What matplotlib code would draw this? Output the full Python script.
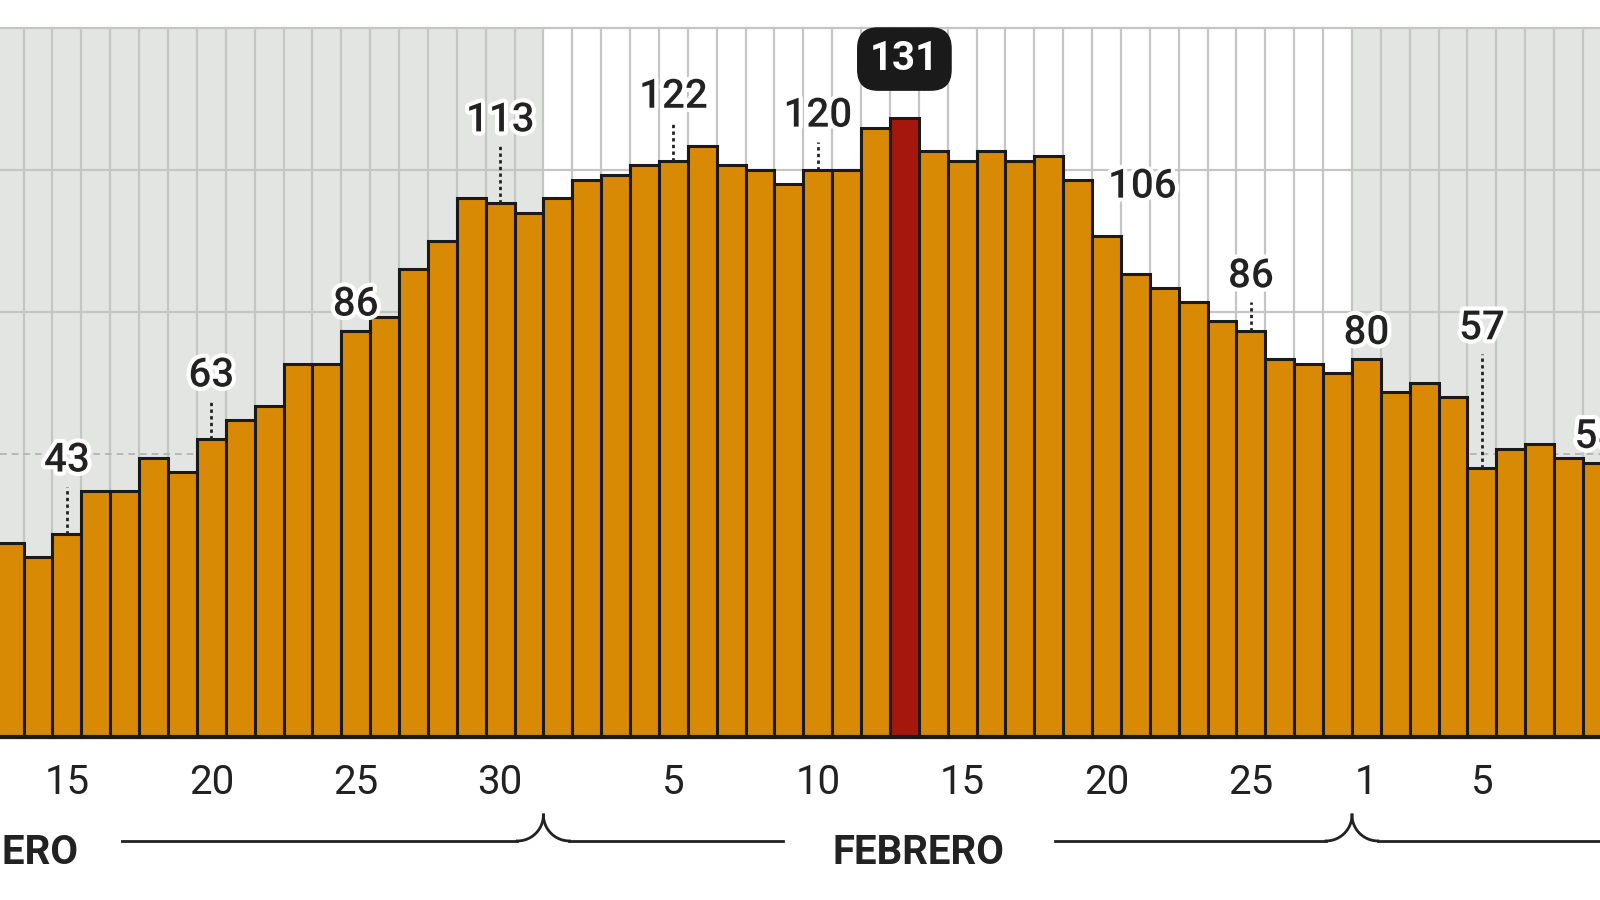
import matplotlib
matplotlib.use("Agg")
import matplotlib.pyplot as plt
import matplotlib.patheffects as pe
import numpy as np

# Days from Jan 13 to Mar 9
values = [41, 38, 43, 52, 52, 59, 56, 63, 67, 70, 79, 79, 86, 89, 99, 105, 114, 113, 111,
          114, 118, 119, 121, 122, 125, 121, 120, 117, 120, 120, 129, 131, 124, 122, 124, 122, 123,
          118, 106, 98, 95, 92, 88, 86, 80, 79, 77,
          80, 73, 75, 72, 57, 61, 62, 59, 58]
tick_show = ["15", "20", "25", "30", "5", "10", "15", "20", "25", "1", "5"]
tick_idx = [2, 7, 12, 17, 23, 28, 33, 38, 43, 47, 51]
annot_idx = [2, 7, 12, 17, 23, 28, 38, 43, 47, 51, 55]
peak_idx = 31
months = ["ENERO", "FEBRERO", "MARZO"]

ORANGE = "#d98a05"
RED = "#a5170d"
GRAY = "#e3e5e2"
FONT = ["Roboto", "DejaVu Sans"]

fig = plt.figure(figsize=(16, 9), dpi=100)
ax = fig.add_axes([0, 0, 1, 1])
px = 28.3 * 1600 / 1568
x0 = -9 * 1600 / 1568 / px
x1 = x0 + 1600 / px
ax.set_xlim(x0, x1)
ax.set_ylim(-34.5, 156)
ax.axis("off")

n = len(values)
x = np.arange(n)
ax.fill_between([x0, 18.5], 0, 150, color=GRAY, zorder=0, lw=0)
ax.fill_between([46.5, x1 + 1], 0, 150, color=GRAY, zorder=0, lw=0)
for v in np.arange(-0.5, n + 0.5, 1):
    ax.plot([v, v], [0, 150], color="#c4c6c4", lw=1.6, zorder=1)
for g in [90, 120, 150]:
    ax.axhline(g, color="#c4c6c4", lw=1.6, zorder=1)
ax.axhline(60, color="#b0b0b0", lw=1.2, ls=(0, (4, 3)), zorder=1)

colors = [RED if i == peak_idx else ORANGE for i in range(n)]
ax.bar(x, values, width=1.0, color=colors, edgecolor="#1a1a1a", lw=2.2, zorder=3)
ax.axhline(0, color="#1a1a1a", lw=3, zorder=4)

stroke = [pe.withStroke(linewidth=6, foreground="white")]
fs = 29
dotted = {2: 10, 7: 8, 17: 12, 23: 8, 28: 6, 43: 6, 51: 24}
for i in annot_idx:
    v = values[i]
    if i == 38:
        ax.text(i + 0.05, v + 10.5, str(v), ha="left", va="center", fontsize=fs, fontweight="medium",
                color="#222", path_effects=stroke, zorder=6, family=FONT)
        continue
    d = dotted.get(i, 0)
    if d:
        ax.plot([i, i], [v, v + d], color="#222", lw=2, ls=(0, (1.2, 1.2)), zorder=5)
    ax.text(i, v + d + 1.5, str(v), ha="center", va="bottom", fontsize=fs, fontweight="medium",
            color="#222", path_effects=stroke, zorder=6, family=FONT)
ax.text(peak_idx, values[peak_idx] + 12.5, str(values[peak_idx]), ha="center", va="center",
        fontsize=fs, color="white", fontweight="bold", family=FONT, zorder=7,
        bbox=dict(boxstyle="round,pad=0.3,rounding_size=0.5", fc="#1a1a1a", ec="#1a1a1a"))

for i, t in zip(tick_idx, tick_show):
    ax.text(i, -9.7, t, ha="center", va="center", fontsize=29, color="#222", family=FONT)

by = -22
def brace(xc):
    tt = np.linspace(0, 1, 30)
    for s in (-1, 1):
        xs = xc + s * (0.9 * (1 - np.cos(tt * np.pi / 2)))
        ys = by + 5.5 * (1 - np.sin(tt * np.pi / 2))
        ax.plot(xs, ys, color="#222", lw=2)
brace(18.5)
brace(46.5)
ax.plot([3.9, 17.6], [by, by], color="#222", lw=2)
ax.plot([19.4, 26.8], [by, by], color="#222", lw=2)
ax.plot([36.2, 45.6], [by, by], color="#222", lw=2)
ax.plot([47.4, x1 + 1], [by, by], color="#222", lw=2)
ax.text(2.4, -24.5, months[0], ha="right", va="center", fontsize=29, fontweight="bold", color="#222", family=FONT)
ax.text(31.5, -24.5, months[1], ha="center", va="center", fontsize=29, fontweight="bold", color="#222", family=FONT)

fig.savefig("out.png", dpi=100, facecolor="white")
